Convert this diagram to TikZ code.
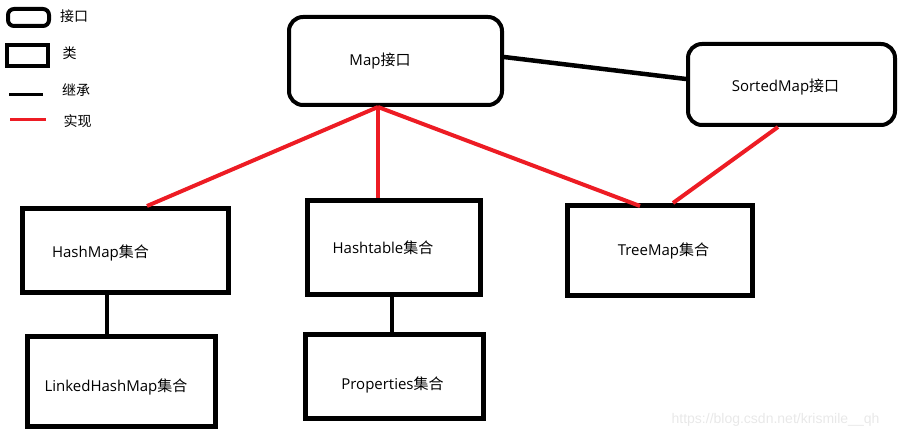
\documentclass[tikz,border=0pt]{standalone}
\usepackage{fontspec}
\setmainfont{Open Sans}
\newfontfamily\cjk{Noto Sans CJK SC}
\newfontfamily\wmfont{Liberation Sans}
\usepackage{xcolor}
\definecolor{paintred}{RGB}{237, 28, 36}
\definecolor{wmgray}{RGB}{232, 232, 232}
\usetikzlibrary{calc}

\begin{document}
\begin{tikzpicture}[x=1pt, y=-1pt,
    every label/.style={inner sep=0pt, font=\fontsize{15}{18}\selectfont},
    classbox/.style={draw, line width=5pt, inner sep=0pt},
    ifacebox/.style={draw, line width=4pt, inner sep=0pt, rounded corners=14pt},
    inherit/.style={line width=4.5pt},
    realize/.style={paintred, line width=4pt},
    legendtext/.style={inner sep=0pt, font=\cjk\fontsize{14}{16}\selectfont}]
    \useasboundingbox (0,0) rectangle (902,438);

    % Legend
    \draw[line width=4pt, rounded corners=6pt] (8,9) rectangle (49,26);
    \node[legendtext] (lgiface) at (74,16) {接口};
    \draw[line width=3.5pt] (7,45) rectangle (48,66);
    \node[legendtext] (lgclass) at (69.5,53) {类};
    \draw[line width=3pt] (9,94.5) -- (43,94.5);
    \node[legendtext] (lginherit) at (76,90) {继承};
    \draw[paintred, line width=3pt] (10,120) -- (46,120);
    \node[legendtext] (lgrealize) at (77.5,121.5) {实现};

    % Interfaces
    \node[ifacebox, minimum width=213pt, minimum height=88pt,
        label={[xshift=-15.5pt]center:Map{\cjk 接口}}] (map) at (395.5,61) {};
    \node[ifacebox, minimum width=207pt, minimum height=81pt,
        label={[xshift=-6pt, yshift=-3pt]center:SortedMap{\cjk 接口}}] (sortedmap) at (791.5,84.5) {};

    % Classes
    \node[classbox, minimum width=206pt, minimum height=84pt,
        label={[xshift=-25pt, yshift=-2.5pt]center:HashMap{\cjk 集合}}] (hashmap) at (125.5,250.5) {};
    \node[classbox, minimum width=188pt, minimum height=90pt,
        label={[xshift=-5.5pt, yshift=-5pt]center:LinkedHashMap{\cjk 集合}}] (linkedhashmap) at (121.5,381.5) {};
    \node[classbox, minimum width=173pt, minimum height=94pt,
        label={[xshift=-11pt]center:Hashtable{\cjk 集合}}] (hashtable) at (394,247.5) {};
    \node[classbox, minimum width=178pt, minimum height=84pt,
        label={[xshift=-2pt, yshift=-8pt]center:Properties{\cjk 集合}}] (properties) at (394.5,376.5) {};
    \node[classbox, minimum width=185pt, minimum height=90pt,
        label={[xshift=3.5pt]center:TreeMap{\cjk 集合}}] (treemap) at (660,250.5) {};

    % Inheritance
    \draw[inherit] ([yshift=4pt]map.east) -- ([yshift=5.5pt]sortedmap.west);
    \draw[inherit] ([xshift=-18.5pt]hashmap.south) -- ([xshift=-14.5pt]linkedhashmap.north);
    \draw[inherit] ([xshift=-2pt]hashtable.south) -- ([xshift=-2.5pt]properties.north);

    % Realization
    \draw[realize] ([xshift=-17.5pt]map.south) -- ([xshift=21.5pt]hashmap.north);
    \draw[realize] ([xshift=-17.5pt]map.south) -- ([xshift=-16pt]hashtable.north);
    \draw[realize] ([xshift=-17.5pt]map.south) -- ([xshift=-20pt, yshift=-3pt]treemap.north);
    \draw[realize] ([xshift=-13.5pt]sortedmap.south) -- ([xshift=13pt]treemap.north);

    % Watermark
    \node[inner sep=0pt, text=wmgray, font=\wmfont\fontsize{14}{16}\selectfont] (watermark) at (775.5,420) {https://blog.csdn.net/krismile\_\_qh};
\end{tikzpicture}
\end{document}
